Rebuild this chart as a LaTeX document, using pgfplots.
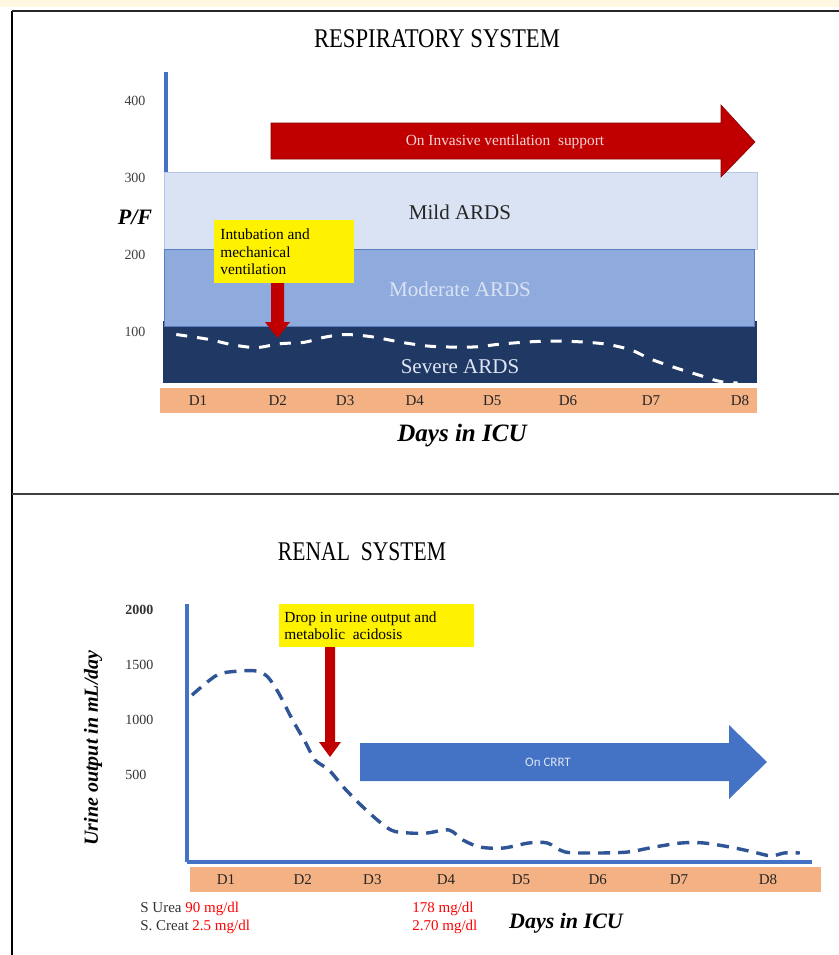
\documentclass[border=0pt]{standalone}
\usepackage{pgfplots}
\usepackage{pgfplotstable}
\pgfplotsset{compat=1.18}
\usepackage{graphicx}
\usepackage{fontspec}
\setmainfont{Liberation Serif}
\newfontfamily\carlito{Carlito}

\definecolor{cream}{HTML}{FFF8E1}
\definecolor{mild}{HTML}{DAE3F3}
\definecolor{mildedge}{HTML}{B4C7E7}
\definecolor{moderate}{HTML}{8FAADC}
\definecolor{modedge}{HTML}{5A7EC0}
\definecolor{severe}{HTML}{203864}
\definecolor{strip}{HTML}{F4B183}
\definecolor{darkred}{HTML}{C00000}
\definecolor{accent}{HTML}{4472C4}
\definecolor{renal}{HTML}{2F5597}
\definecolor{pinktext}{HTML}{F6D5D5}
\definecolor{crrttext}{HTML}{DDE6F5}

% P/F ratio (respiratory panel), x = day position, y = P/F
\pgfplotstableread{
x y
0.72 89
1.12 83
1.43 76
1.75 72
2.06 77
2.38 79
2.61 85
2.90 89
3.25 86
3.62 79
3.97 74
4.28 72.7
4.60 73
4.91 76.6
5.29 79.5
5.59 80.5
5.93 79.5
6.27 76.5
6.59 69
6.85 57
7.16 46
7.48 36
7.74 28
7.97 26
}\pfdata

% Urine output (renal panel), x = day position, y = mL/day
\pgfplotstableread{
x y
0.561 1227
0.884 1409
1.168 1445
1.40 1445
1.54 1391
1.68 1245
1.86 1000
2.03 791
2.15 636
2.33 545
2.55 364
2.85 155
3.13 0
3.36 -27
3.60 -27
3.88 0
4.06 -91
4.28 -155
4.58 -164
4.91 -118
5.15 -118
5.38 -200
5.78 -209
6.19 -200
6.53 -155
6.88 -118
7.17 -118
7.51 -155
7.81 -200
8.04 -236
8.21 -209
8.41 -209
}\urinedata

\begin{document}
\begin{tikzpicture}
% background pieces drawn before the axes
\begin{scope}[x=0.5pt,y=-0.5pt]
\fill[white] (0,0) rectangle (839,955);
\fill[cream] (0,0) rectangle (839,7);
\fill[strip] (160,388) rectangle (757,413);
\fill[strip] (190,867) rectangle (821,892);
\end{scope}

% ---------------- Respiratory system ----------------
\begin{axis}[
  at={(83pt,-191.5pt)}, anchor=south west,
  scale only axis, width=295.5pt, height=155.5pt,
  xmin=0.587, xmax=8.22, ymin=26, ymax=430,
  clip=false,
  axis lines=left,
  axis line style={-},
  x axis line style={draw=none},
  y axis line style={draw=accent, line width=1.6pt},
  xtick={1,2.03,2.9,3.8,4.8,5.78,6.85,8},
  xticklabels={D1,D2,D3,D4,D5,D6,D7,D8},
  ytick={100,200,300,400},
  yticklabels={100,200,300,400},
  major tick length=0pt,
  xticklabel style={anchor=center, yshift=-8.75pt, font=\fontsize{7.5}{9}\selectfont, text=black!85},
  yticklabel style={anchor=center, xshift=-15.5pt, yshift=-3pt, font=\fontsize{7}{9}\selectfont, text=black!75},
]
\addplot[fill=mild, draw=mildedge, line width=0.4pt] coordinates {(0.56,200) (8.219,200) (8.219,300) (0.56,300)} -- cycle;
\addplot[fill=severe, draw=none] coordinates {(0.548,26) (8.219,26) (8.219,106) (0.548,106)} -- cycle;
\addplot[fill=moderate, draw=modedge, line width=0.4pt] coordinates {(0.561,100) (8.181,100) (8.181,200) (0.561,200)} -- cycle;
\addplot[white, line width=1.5pt, dash pattern=on 5.5pt off 5pt, smooth] table {\pfdata};
\end{axis}

% ---------------- Renal system ----------------
\begin{axis}[
  at={(93.5pt,-431pt)}, anchor=south west,
  scale only axis, width=312.5pt, height=129pt,
  xmin=0.496, xmax=8.568, ymin=-291, ymax=2055,
  clip=false,
  axis lines=left,
  axis line style={-, draw=accent, line width=2pt},
  xtick={1,1.99,2.89,3.84,4.81,5.80,6.85,8},
  xticklabels={D1,D2,D3,D4,D5,D6,D7,D8},
  ytick={500,1000,1500,2000},
  yticklabels={500,1000,1500,\textbf{2000}},
  major tick length=0pt,
  xticklabel style={anchor=center, yshift=-9pt, font=\fontsize{7.5}{9}\selectfont, text=black!85},
  yticklabel style={anchor=west, inner sep=0pt, xshift=-31pt, font=\fontsize{7}{9}\selectfont, text=black!80},
]
\addplot[renal, line width=1.7pt, dash pattern=on 6pt off 4pt, smooth] table {\urinedata};
\end{axis}

% ---------------- annotations ----------------
\begin{scope}[x=0.5pt,y=-0.5pt]
% frame
\draw[black, line width=1.3pt] (12,10.5) -- (12,955);
\draw[black!85, line width=0.8pt] (12,11) -- (839,11);
\draw[black!75, line width=0.75pt] (12,494) -- (839,494);

% titles
\node[font=\fontsize{13.5}{15}\selectfont] at (437,39) {\scalebox{0.84}[1]{RESPIRATORY SYSTEM}};
\node[font=\fontsize{13.5}{15}\selectfont] at (362,552) {\scalebox{0.8}[1]{RENAL\ \ SYSTEM}};

% band labels
\node[text=black!85, font=\fontsize{10.5}{12}\selectfont] at (460,212) {Mild ARDS};
\node[text=mild, font=\fontsize{10.5}{12}\selectfont] at (460,289) {Moderate ARDS};
\node[text=mild!90!white, font=\fontsize{10.5}{12}\selectfont] at (460,367) {Severe ARDS};

% axis titles
\node[font=\fontsize{11}{13}\selectfont\bfseries\itshape] at (135,217) {P/F};
\node[font=\fontsize{12.5}{14}\selectfont\bfseries\itshape] at (462,436) {Days in ICU};
\node[rotate=90, font=\fontsize{10}{12}\selectfont\bfseries\itshape] at (93,748) {Urine output in mL/day};
\node[font=\fontsize{11}{13}\selectfont\bfseries\itshape] at (566,923) {Days in ICU};

% red block arrow (ventilation)
\fill[darkred, draw=darkred!70!black, line width=0.3pt]
  (271,123) -- (721,123) -- (721,105) -- (755,142) -- (721,177) -- (721,159) -- (271,159) -- cycle;
\node[text=pinktext, font=\fontsize{7.7}{9}\selectfont] at (505,142) {On Invasive ventilation\ \ support};

% yellow box 1
\fill[yellow] (214,220) rectangle (354,283);
\node[anchor=west, align=left, inner sep=0pt, font=\fontsize{7.7}{8.75}\selectfont] at (220,252)
  {Intubation and\\mechanical\\ventilation};
\fill[darkred] (271,283) -- (284,283) -- (284,322) -- (290,322) -- (277.5,338) -- (265,322) -- (271,322) -- cycle;

% yellow box 2
\fill[yellow] (279,604) rectangle (474,647);
\node[anchor=west, align=left, inner sep=0pt, font=\fontsize{7.7}{8.75}\selectfont] at (284,625.5)
  {Drop in urine output and\\metabolic\ \ acidosis};
\fill[darkred] (325,647) -- (335,647) -- (335,742) -- (341,742) -- (330,757) -- (319,742) -- (325,742) -- cycle;

% blue block arrow (CRRT)
\fill[accent] (360,743) -- (729,743) -- (729,725) -- (767,762) -- (729,799) -- (729,781) -- (360,781) -- cycle;
\node[text=crrttext, font=\carlito\fontsize{6.5}{8}\selectfont] at (548,762) {On CRRT};

% lab values
\node[anchor=west, inner sep=0pt, font=\fontsize{7.5}{9}\selectfont] at (140,909) {\color{black!80}S Urea \color{red}90 mg/dl};
\node[anchor=west, inner sep=0pt, font=\fontsize{7.5}{9}\selectfont] at (140,927) {\color{black!80}S. Creat \color{red}2.5 mg/dl};
\node[anchor=west, inner sep=0pt, text=red, font=\fontsize{7.5}{9}\selectfont] at (412,909) {178 mg/dl};
\node[anchor=west, inner sep=0pt, text=red, font=\fontsize{7.5}{9}\selectfont] at (412,927) {2.70 mg/dl};
\end{scope}

\pgfresetboundingbox
\path[use as bounding box] (0,0) rectangle (419.5pt,-477.5pt);
\end{tikzpicture}
\end{document}
